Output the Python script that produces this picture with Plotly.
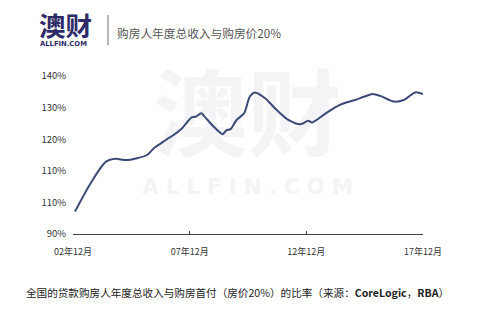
import plotly.graph_objects as go

dates = ["2003-01-01", "2003-09-01", "2004-05-01", "2004-10-01", "2005-03-01", "2005-09-01",
         "2006-02-01", "2006-06-01", "2006-08-01", "2007-01-01", "2007-03-01", "2007-08-01",
         "2008-01-01", "2008-03-01", "2008-06-01", "2008-07-15", "2008-12-01", "2009-05-01",
         "2009-07-01", "2009-09-01", "2009-12-01", "2010-04-01", "2010-07-01", "2010-09-15",
         "2011-03-01", "2011-08-01", "2012-03-01", "2012-09-01", "2013-01-01", "2013-03-01",
         "2013-10-01", "2014-05-01", "2015-01-01", "2015-06-01", "2015-10-01", "2016-02-01",
         "2016-09-01", "2017-02-01", "2017-08-01", "2017-12-01"]
ratio = [97.1, 106.0, 112.9, 113.8, 113.4, 114.0,
         115.0, 117.4, 118.2, 120.3, 121.0, 123.4,
         126.9, 127.1, 128.2, 127.3, 124.2, 121.6,
         122.9, 123.2, 126.0, 128.2, 133.5, 134.8,
         132.9, 129.7, 126.0, 124.7, 125.8, 125.3,
         128.2, 130.8, 132.4, 133.5, 134.3, 133.7,
         131.9, 132.4, 134.8, 134.3]

y_tickvals = [90, 100, 110, 120, 130, 140]
y_ticktext = ["90%", "110%", "110%", "120%", "130%", "140%"]
x_tickvals = ["2002-12-01", "2007-12-01", "2012-12-01", "2017-12-01"]
x_ticktext = ["02年12月", "07年12月", "12年12月", "17年12月"]

title_text = "购房人年度总收入与购房价20%"
note_text = "全国的贷款购房人年度总收入与购房首付（房价20%）的比率（来源：<b>CoreLogic</b>，<b>RBA</b>）"

FONT = "Noto Sans CJK SC"
NAVY = "#3b4a77"

W, H = 487, 325
L, R, T, B = 73, 423, 76, 234  # plot area in pixels


def px(x):
    return (x - L) / (R - L)


def py(y):
    return (B - y) / (B - T)


fig = go.Figure()
fig.add_trace(go.Scatter(x=dates, y=ratio, mode="lines",
                         line=dict(color=NAVY, width=2, shape="spline", smoothing=0.8),
                         hoverinfo="skip"))

fig.update_layout(
    width=W, height=H,
    margin=dict(l=L, r=W - R, t=T, b=H - B),
    paper_bgcolor="white", plot_bgcolor="white",
    showlegend=False,
    font=dict(family=FONT, color="#333333", size=9),
    xaxis=dict(range=["2002-12-01", "2017-12-01"], tickvals=x_tickvals, ticktext=x_ticktext,
               showgrid=False, zeroline=False, showline=True, linecolor="#444444", linewidth=1,
               ticks="inside", ticklen=3, tickcolor="#444444", ticklabelstandoff=9,
               tickfont=dict(size=9, color="#333333")),
    yaxis=dict(range=[90, 140], tickvals=y_tickvals, ticktext=y_ticktext,
               showgrid=False, zeroline=False, showline=False, ticks="",
               ticklabelstandoff=6,
               tickfont=dict(size=9.5, color="#333333")),
)

# watermark (below the line)
fig.add_shape(type="rect", xref="paper", yref="paper", x0=px(150), x1=px(345),
              y0=py(170), y1=py(76), layer="below", line=dict(width=0),
              fillcolor="rgba(0,0,0,0)",
              label=dict(text="澳财", textposition="middle center",
                         font=dict(family=FONT, size=94, color="#f4f4f7", weight="bold")))
fig.add_shape(type="rect", xref="paper", yref="paper", x0=px(150), x1=px(345),
              y0=py(196), y1=py(174), layer="below", line=dict(width=0),
              fillcolor="rgba(0,0,0,0)",
              label=dict(text="A L L F I N . C O M", textposition="middle center",
                         font=dict(family="DejaVu Sans", size=21, color="#f4f4f7", weight="bold")))

# header
fig.add_annotation(xref="paper", yref="paper", x=px(38), y=py(24.5), xanchor="left",
                   yanchor="middle", text="<b>澳财</b>", showarrow=False, borderpad=0,
                   font=dict(family=FONT, size=26.5, color="#2c2b68"))
fig.add_annotation(xref="paper", yref="paper", x=px(39), y=py(43.5), xanchor="left",
                   yanchor="middle", text="<b>ALLFIN.COM</b>", showarrow=False, borderpad=0,
                   font=dict(family="DejaVu Sans", size=6.8, color="#2c2b68"))
fig.add_shape(type="line", xref="paper", yref="paper", x0=px(108), x1=px(108),
              y0=py(15), y1=py(45), line=dict(color="#888888", width=1.2))
fig.add_annotation(xref="paper", yref="paper", x=px(115), y=py(32), xanchor="left",
                   yanchor="middle", text=title_text, showarrow=False,
                   font=dict(family=FONT, size=11.7, color="#555555"))
fig.add_annotation(xref="paper", yref="paper", x=px(24), y=py(292), xanchor="left",
                   yanchor="middle", text=note_text, showarrow=False,
                   font=dict(family=FONT, size=10.6, color="#222222"))

fig.write_html("out.html")
